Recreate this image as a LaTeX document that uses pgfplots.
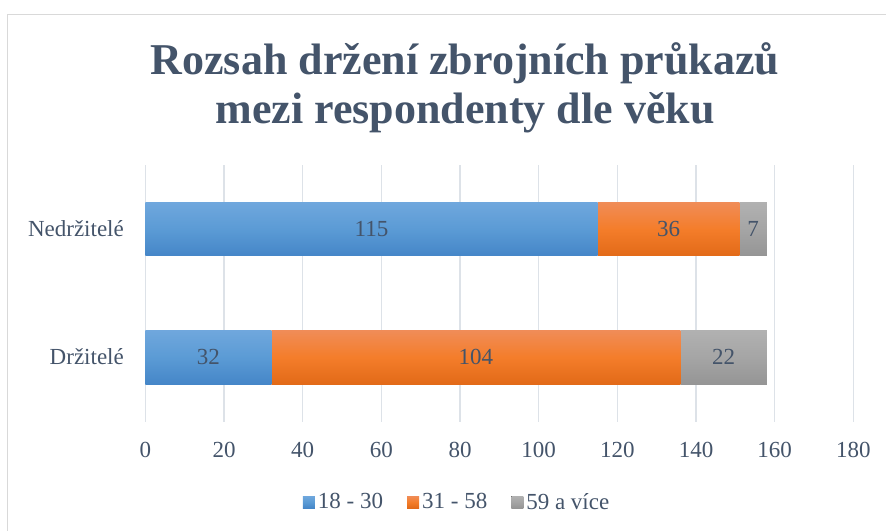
\documentclass[border=0pt]{standalone}
\usepackage{pgfplots}
\pgfplotsset{compat=1.18}
\usepackage{fontspec}
\setmainfont{Liberation Serif}
\definecolor{txt}{HTML}{44546A}
\definecolor{gridc}{HTML}{DDE2E8}
\definecolor{framec}{HTML}{D9D9D9}
\definecolor{bluetop}{HTML}{6FA7DD}
\definecolor{bluemid}{HTML}{5B9BD5}
\definecolor{bluebot}{HTML}{4586C8}
\definecolor{orantop}{HTML}{F08C57}
\definecolor{oranmid}{HTML}{F47D2A}
\definecolor{oranbot}{HTML}{E26A18}
\definecolor{graytop}{HTML}{B1B1B1}
\definecolor{graymid}{HTML}{A5A5A5}
\definecolor{graybot}{HTML}{959595}
\pgfplotsset{
  basechart/.style={
    at={(145.4bp,109.5bp)}, anchor=south west,
    scale only axis, width=708bp, height=256.5bp,
    xbar stacked, bar width=53.3bp,
    xmin=0, xmax=180, ymin=-0.5, ymax=1.5,
    axis line style={draw=none}, major tick length=0pt,
    /pgf/number format/assume math mode=true,
    point meta=explicit,
    nodes near coords,
    every node near coord/.append style={anchor=center, text=txt, font=\fontsize{23bp}{23bp}\selectfont},
  },
  sblue/.style={draw=none, top color=bluetop, bottom color=bluebot, middle color=bluemid},
  sorange/.style={draw=none, top color=orantop, bottom color=oranbot, middle color=oranmid},
  sgray/.style={draw=none, top color=graytop, bottom color=graybot, middle color=graymid},
}
\begin{document}
\begin{tikzpicture}
\path[use as bounding box] (0bp,0bp) rectangle (886bp,531bp);
\draw[color=framec, line width=1bp] (7.5bp,0bp) -- (7.5bp,516.5bp) -- (886bp,516.5bp);
\node[font=\fontsize{44bp}{50bp}\selectfont\bfseries, text=txt, anchor=base, inner sep=0pt] at (465bp,456.7bp) {Rozsah držení zbrojních průkazů};
\node[font=\fontsize{44bp}{50bp}\selectfont\bfseries, text=txt, anchor=base, inner sep=0pt] at (465bp,407bp) {mezi respondenty dle věku};
% axis 1: grid, ticks, legend and the "Držitelé" bar
\begin{axis}[
  basechart,
  xtick={0,20,...,180}, ytick={0,1},
  yticklabels={Držitelé, Nedržitelé},
  xmajorgrids, major grid style={gridc, line width=1.3bp},
  xticklabel style={font=\fontsize{23bp}{23bp}\selectfont, text=txt, inner sep=0pt, anchor=north, yshift=-20.2bp},
  yticklabel style={font=\fontsize{23bp}{23bp}\selectfont, text=txt, inner sep=0pt, anchor=base east, xshift=-21.4bp, yshift=-7.6bp},
  legend columns=3,
  legend style={at={(0.441,-0.314)}, anchor=center, draw=none, fill=none,
    font=\fontsize{23bp}{23bp}\selectfont, text=txt,
    nodes={inner sep=0pt, inner xsep=3bp},
    /tikz/every even column/.append style={column sep=21bp}},
  legend image code/.code={\fill[#1] (0bp,-6bp) rectangle (12bp,6bp);},
]
\addplot[sblue] coordinates {(32,0) [32]};
\addplot[sorange] coordinates {(104,0) [104]};
\addplot[sgray] coordinates {(22,0) [22]};
\legend{18 - 30, 31 - 58, 59 a více}
\end{axis}
% axis 2: the "Nedržitelé" bar, same frame, nothing else drawn
\begin{axis}[
  basechart,
  xtick=\empty, ytick=\empty,
]
\addplot[sblue] coordinates {(115,1) [115]};
\addplot[sorange] coordinates {(36,1) [36]};
\addplot[sgray] coordinates {(7,1) [7]};
\end{axis}
\end{tikzpicture}
\end{document}
